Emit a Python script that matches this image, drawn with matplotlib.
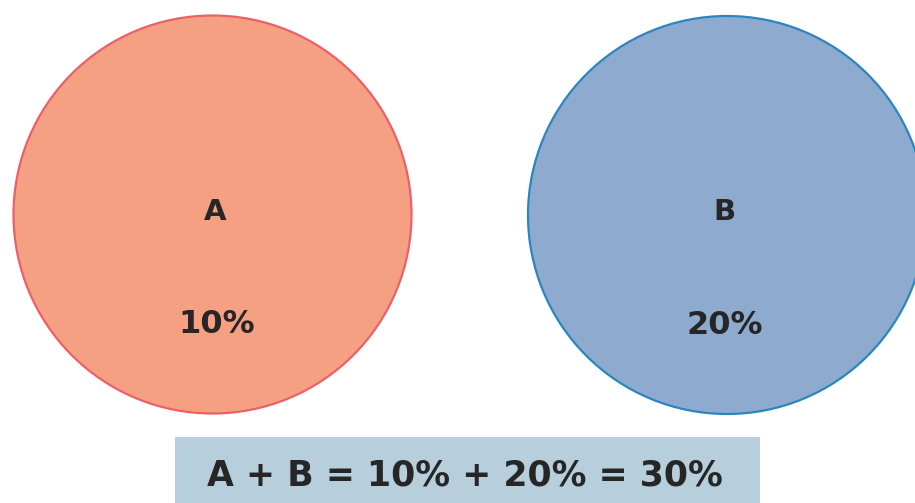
import matplotlib
matplotlib.use("Agg")
import matplotlib.pyplot as plt
from matplotlib.patches import Circle, Rectangle

# Data
categories = ["A", "B"]
values = [10, 20]  # percent
total = sum(values)

fill_colors = ["#f5a083", "#8eaacf"]
edge_colors = ["#ec6068", "#2b86c0"]
centers = [(212.5, 214.5), (727.0, 215.0)]
text_dx = [3, -3]
radius = 199
text_color = "#262626"

fig = plt.figure(figsize=(9.15, 5.03), dpi=100)
ax = fig.add_axes([0, 0, 1, 1])
ax.set_xlim(0, 915)
ax.set_ylim(503, 0)
ax.axis("off")

for cat, val, fc, ec, (cx, cy), dx in zip(categories, values, fill_colors, edge_colors, centers, text_dx):
    ax.add_patch(Circle((cx, cy), radius, facecolor=fc, edgecolor=ec, linewidth=1.6))
    ax.text(cx + dx, cy - 3, cat, ha="center", va="center", fontsize=21,
            fontweight="bold", color=text_color, family="DejaVu Sans")
    ax.text(cx + dx + 1, cy + 110, f"{val}%", ha="center", va="center", fontsize=23,
            fontweight="bold", color=text_color, family="DejaVu Sans")

ax.add_patch(Rectangle((175, 437), 585, 70, facecolor="#b7cfdc", edgecolor="none"))
formula = f"{categories[0]} + {categories[1]} = {values[0]}% + {values[1]}% = {total}%"
ax.text(465, 475, formula, ha="center", va="center", fontsize=25,
        fontweight="bold", color=text_color, family="DejaVu Sans")

fig.savefig("out.png", dpi=100)
